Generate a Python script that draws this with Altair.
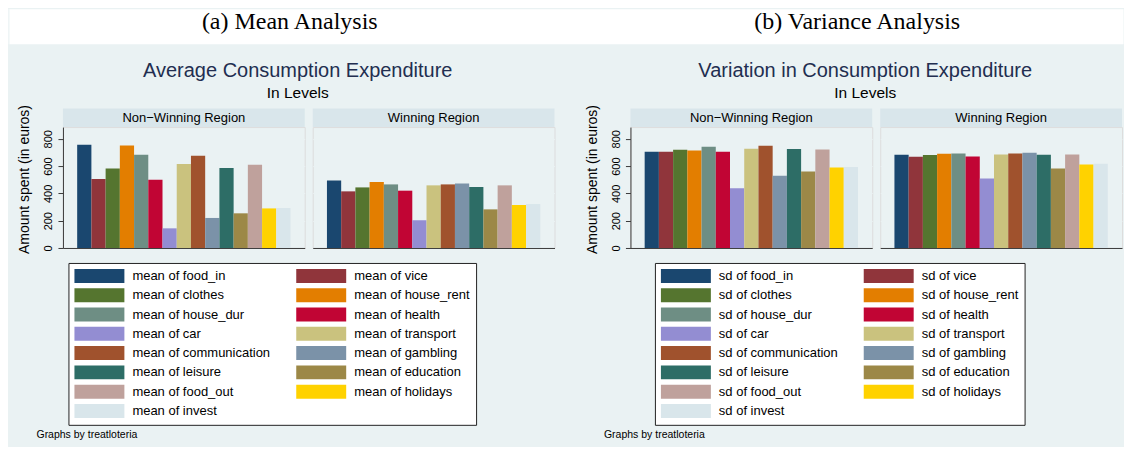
import altair as alt
import pandas as pd

categories = ["food_in", "vice", "clothes", "house_rent", "house_dur", "health", "car",
              "transport", "communication", "gambling", "leisure", "education",
              "food_out", "holidays", "invest"]
colors = ["#1a476f", "#90353b", "#55752f", "#e37e00", "#6e8e84", "#c10534", "#938dd2",
          "#cac27e", "#a0522d", "#7b92a8", "#2d6d66", "#9c8847", "#bfa19c", "#ffd200",
          "#d9e6eb"]
regions = ["Non\u2212Winning Region", "Winning Region"]
mean_nonwin = [756, 505, 583, 751, 683, 500, 144, 615, 676, 220, 586, 254, 610, 290, 293]
mean_win = [495, 415, 444, 483, 466, 420, 203, 459, 466, 473, 447, 283, 459, 315, 322]
sd_nonwin = [705, 705, 720, 715, 742, 705, 437, 727, 749, 529, 725, 561, 722, 590, 593]
sd_win = [683, 669, 681, 691, 693, 671, 510, 686, 693, 698, 683, 583, 686, 612, 617]
y_ticks = [0, 200, 400, 600, 800]

# legend is filled column by column: left column first, then right column
legend_order = categories[0::2] + categories[1::2]

BG = "#EAF2F3"
HDR = "#D9E6EB"
AX = "#3a3a3a"
SANS = "Liberation Sans"
W, H = 242, 121
YMAX = 886

one = pd.DataFrame({"k": [0]})


def txt(text, x, y, size, color="black", font=SANS, align="center", baseline="alphabetic"):
    return alt.Chart(one).mark_text(font=font, fontSize=size, color=color, align=align,
                                    baseline=baseline).encode(
        x=alt.value(x), y=alt.value(y), text=alt.value(text))


def rect(x, x2, y, y2, color):
    return alt.Chart(one).mark_rect(color=color, strokeWidth=0).encode(
        x=alt.value(x), x2=alt.value(x2), y=alt.value(y), y2=alt.value(y2))


def cell(values, region, first, stat, caption="", title="", legend_x=5.5, full=False):
    df = pd.DataFrame({"cat": categories, "value": values})
    if first:
        legend = alt.Legend(
            orient="none", legendX=legend_x, legendY=136, columns=2, title=None,
            values=legend_order,
            symbolType="M-3.571,-1H3.571V1H-3.571Z", symbolSize=196,
            symbolStrokeWidth=0, symbolOffset=18, symbolOpacity=1,
            labelFont=SANS, labelFontSize=13, labelColor="black",
            labelOffset=26, labelLimit=0, labelExpr="'%s of ' + datum.label" % stat,
            fillColor="white", strokeColor="#222", padding=6, rowPadding=5.3,
            columnPadding=25)
        yaxis = alt.Axis(values=y_ticks, grid=True, gridColor=BG, domain=True,
                         domainColor=AX, ticks=True, tickColor=AX, tickSize=5,
                         labelAngle=270, labelAlign="center", labelBaseline="bottom",
                         labelPadding=4, labelFont=SANS, labelFontSize=11,
                         labelColor="black", title="Amount spent (in euros)",
                         titleFont=SANS, titleFontSize=14, titleFontWeight="normal",
                         titleColor="black", titleAngle=270, titleAlign="center",
                         titleBaseline="middle", titleX=-38, titleY=52)
    else:
        legend = None
        yaxis = alt.Axis(values=y_ticks, grid=True, gridColor=BG, domain=False,
                         ticks=False, labels=False, title=None)
    bars = alt.Chart(df).mark_bar(strokeWidth=0).encode(
        x=alt.X("cat:N", sort=categories,
                scale=alt.Scale(paddingInner=0, paddingOuter=1),
                axis=alt.Axis(labels=False, ticks=False, title=None, grid=False,
                              domainColor=AX)),
        y=alt.Y("value:Q", scale=alt.Scale(domain=[0, YMAX], nice=False), axis=yaxis),
        color=alt.Color("cat:N", sort=categories,
                        scale=alt.Scale(domain=categories, range=colors), legend=legend),
    )
    layers = []
    if full:
        layers += [
            rect(-54.5, 1061.5, -118, -83, "white"),
            rect(-54.5, -53.5, -118, 319, BG),
        ]
    layers += [
        rect(0, W, -18.5, 0, HDR),
        txt(region, W / 2, -9, 13, baseline="middle"),
        bars,
    ]
    if first:
        layers += [
            txt(caption, 227, -98.5, 24, font="Liberation Serif"),
            txt(title, 235, -50.5, 20, color="#222E50"),
            txt("In Levels", 235, -29.5, 15.5),
            txt("Graphs by treatloteria", -26.5, 308, 10.5, align="left", baseline="middle"),
        ]
    return alt.layer(*layers).properties(width=W, height=H)


spacer = rect(0, 0, 0, 0, BG).properties(
    width=60, height=H, view=alt.ViewBackground(fill=BG, stroke="transparent"))

cells = [
    cell(mean_nonwin, regions[0], True, "mean", "(a) Mean Analysis",
         "Average Consumption Expenditure", legend_x=5.5, full=True),
    cell(mean_win, regions[1], False, "mean"),
    spacer,
    cell(sd_nonwin, regions[0], True, "sd", "(b) Variance Analysis",
         "Variation in Consumption Expenditure", legend_x=24.5),
    cell(sd_win, regions[1], False, "sd"),
]

chart = alt.hconcat(*cells, spacing=8, bounds="flush").resolve_scale(
    color="independent").properties(padding=0, background=BG).configure_view(
    stroke="transparent", fill="white").configure(font=SANS)

chart.save("out.html", embed_options={"renderer": "svg", "actions": False})
